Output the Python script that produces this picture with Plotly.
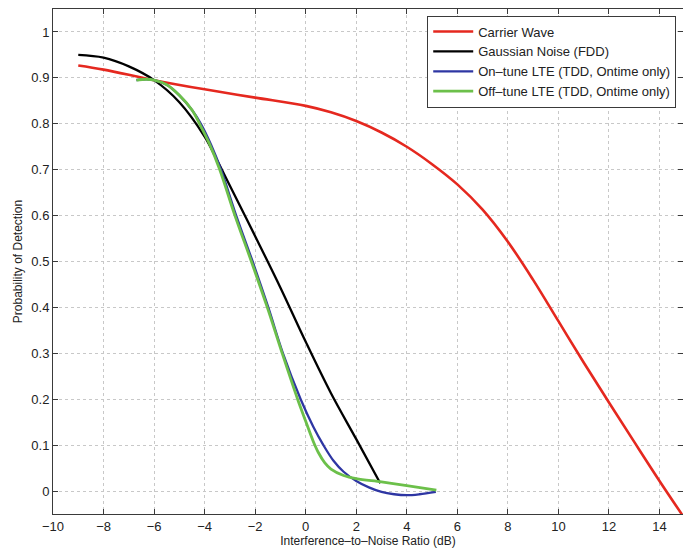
import plotly.graph_objects as go

# Carrier Wave
cw_x = [-9, -8, -6, -4, -2, 0, 1, 2, 3, 4, 5, 6, 7, 8, 9, 10, 11, 12, 13, 14, 15]
cw_y = [0.927, 0.918, 0.895, 0.875, 0.857, 0.839, 0.825, 0.806, 0.781, 0.75, 0.712, 0.668, 0.613,
        0.543, 0.46, 0.37, 0.28, 0.193, 0.107, 0.022, -0.06]

# Gaussian Noise (FDD)
gn_x = [-9, -8, -7, -6, -5, -4, -3.5, -3, -2, -1, 0, 1, 2, 2.95]
gn_y = [0.95, 0.944, 0.925, 0.895, 0.847, 0.772, 0.72, 0.665, 0.555, 0.443, 0.325, 0.213, 0.113, 0.017]

# On-tune LTE (TDD, Ontime only)
on_x = [-6.7, -6.3, -6, -5.5, -5, -4.5, -4.15, -3.75, -3.35, -2.75, -2.1, -1.48, -0.9, -0.2,
        0.3, 0.7, 1.1, 1.5, 2.0, 2.5, 3.0, 3.5, 4.0, 4.5, 5.15]
on_y = [0.895, 0.897, 0.895, 0.885, 0.862, 0.83, 0.80, 0.755, 0.70, 0.60, 0.50, 0.40, 0.30, 0.20,
        0.14, 0.10, 0.066, 0.042, 0.022, 0.008, -0.002, -0.007, -0.009, -0.007, -0.002]

# Off-tune LTE (TDD, Ontime only)
off_x = [-6.7, -6.3, -6, -5.5, -5, -4.5, -4.2, -3.8, -3.4, -2.8, -2.15, -1.52, -0.93, -0.32, 0.0,
         0.3, 0.5, 0.75, 1.0, 1.5, 2.0, 3.0, 4.0, 5.17]
off_y = [0.895, 0.897, 0.895, 0.885, 0.862, 0.83, 0.80, 0.755, 0.70, 0.60, 0.50, 0.40, 0.30, 0.20,
         0.152, 0.108, 0.084, 0.062, 0.048, 0.034, 0.027, 0.02, 0.012, 0.002]

names = ["Carrier Wave", "Gaussian Noise (FDD)", "On\u2013tune LTE (TDD, Ontime only)",
         "Off\u2013tune LTE (TDD, Ontime only)"]
colors = ["#e5281f", "#000000", "#2e36a3", "#6cc04a"]
widths = [2.6, 2.3, 2.3, 2.8]
series = [(cw_x, cw_y), (gn_x, gn_y), (on_x, on_y), (off_x, off_y)]

fig = go.Figure()
for (xs, ys), n, c, w in zip(series, names, colors, widths):
    fig.add_trace(go.Scatter(x=xs, y=ys, mode="lines", name=n,
                             line=dict(color=c, width=w, shape="spline", smoothing=1.0)))

axis_common = dict(
    showline=True, linecolor="#3a3a3a", linewidth=1, mirror="ticks",
    ticks="inside", ticklen=5, tickcolor="#3a3a3a",
    showgrid=True, gridcolor="#c8c8c8", griddash="dot", gridwidth=1,
    zeroline=False,
    tickfont=dict(family="Liberation Sans, Arial, sans-serif", size=13, color="#222"),
)

fig.update_layout(
    width=683, height=548,
    margin=dict(l=53, r=0, t=9, b=34),
    paper_bgcolor="white", plot_bgcolor="white",
    font=dict(family="Liberation Sans, Arial, sans-serif", color="#222"),
    xaxis=dict(range=[-10, 14.93], dtick=2, tick0=-10,
               title=dict(text="Interference\u2013to\u2013Noise Ratio (dB)", font=dict(size=12), standoff=2),
               **axis_common),
    yaxis=dict(range=[-0.05, 1.05], dtick=0.1, tick0=0,
               title=dict(text="Probability of Detection", font=dict(size=12), standoff=6),
               **axis_common),
    legend=dict(x=0.594, y=0.987, xanchor="left", yanchor="top",
                bgcolor="white", bordercolor="#3a3a3a", borderwidth=1,
                font=dict(family="Liberation Sans, Arial, sans-serif", size=13, color="#222"),
                tracegroupgap=0, itemwidth=40),
    showlegend=True,
)

fig.write_html("out.html")
